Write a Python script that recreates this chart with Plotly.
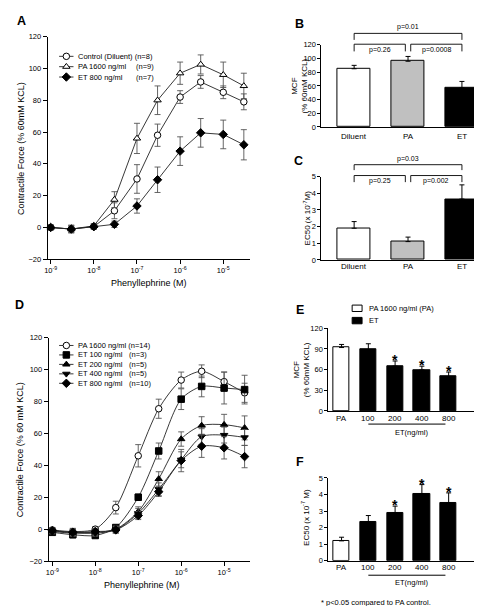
import plotly.graph_objects as go

W, H = 482, 606
FONT = "Liberation Sans, Arial, sans-serif"


def fx(p):
    return p / W


def fy(p):
    return 1 - p / H


# ---------------- data ----------------
conc = [1e-9, 3e-9, 1e-8, 3e-8, 1e-7, 3e-7, 1e-6, 3e-6, 1e-5, 3e-5]
log_ticks = [1e-9, 1e-8, 1e-7, 1e-6, 1e-5]
log_tick_text = ["10<sup>-9</sup>", "10<sup>-8</sup>", "10<sup>-7</sup>", "10<sup>-6</sup>", "10<sup>-5</sup>"]

# Panel A
a_control = [0, -1, 0.5, 10.5, 30.5, 58, 82, 91.5, 85, 79]
a_control_err = [1.5, 2, 1.5, 5, 9, 7, 4, 4, 4, 5]
a_pa = [0, -1, 1, 17.5, 56, 80, 97, 102.5, 96, 89]
a_pa_err = [1.5, 2, 1.5, 5, 9.5, 9, 7, 6, 8, 8]
a_et = [0, -1, 0.5, 2, 13.5, 30, 48, 59.5, 58.5, 52]
a_et_err = [1.5, 2.5, 1.5, 2, 4.5, 8, 9, 9, 9, 9.5]
a_names = ["Control (Diluent) (n=8)", "PA 1600 ng/ml", "ET 800 ng/ml"]
a_n = ["", "(n=9)", "(n=7)"]

# Panel D
d_pa = [-0.5, -1.5, 0, 13.5, 46, 75.5, 93.5, 99, 92.5, 85.5]
d_pa_err = [1.5, 2, 1.5, 4, 7, 6, 5, 4, 6, 6]
d_et100 = [-2, -3.5, -4, 1, 20, 49, 81.5, 89.5, 88.5, 87.5]
d_et100_err = [1.5, 2, 1.5, 1.5, 2, 5, 6.5, 6.5, 10, 9]
d_et200 = [-1, -2, -2, 0, 11, 31.5, 56.5, 65, 65.5, 63.5]
d_et200_err = [1.5, 2, 2, 2, 3, 4.5, 4.5, 5.5, 6.5, 7.5]
d_et400 = [-1.5, -2.5, -2.5, -0.5, 10, 25, 43.5, 58, 59, 57.5]
d_et400_err = [1.5, 2, 2, 2, 3, 4, 5, 5, 5, 5]
d_et800 = [-1, -2, -1.5, -0.5, 8.5, 23.5, 43, 52, 51, 45.5]
d_et800_err = [1.5, 2, 2, 2, 2.5, 3, 7, 7, 7, 7]
d_names = ["PA 1600 ng/ml (n=14)", "ET 100 ng/ml", "ET 200 ng/ml", "ET 400 ng/ml", "ET 800 ng/ml"]
d_n = ["", "(n=3)", "(n=5)", "(n=5)", "(n=10)"]

# Panels B, C
bc_groups = ["Diluent", "PA", "ET"]
b_mcf = [85, 96, 57]
b_mcf_err = [5, 7, 9.5]
c_ec50 = [1.9, 1.1, 3.65]
c_ec50_err = [0.4, 0.27, 0.85]
b_pvals = ["p=0.26", "p=0.0008", "p=0.01"]
c_pvals = ["p=0.25", "p=0.002", "p=0.03"]

# Panels E, F
ef_groups = ["PA", "100", "200", "400", "800"]
e_mcf = [92, 89, 65, 59.5, 50]
e_mcf_err = [4.5, 8.5, 7.5, 5.5, 6.5]
f_ec50 = [1.2, 2.35, 2.9, 4.05, 3.5]
f_ec50_err = [0.22, 0.38, 0.4, 0.55, 0.6]
ef_sig = [False, False, True, True, True]

# ---------------- figure ----------------
fig = go.Figure()
ann = []
shapes = []


def text(x, y, s, size=7.5, xanchor="center", yanchor="middle", angle=0, xref="paper", yref="paper", yshift=0):
    ann.append(dict(x=x, y=y, xref=xref, yref=yref, text=s, showarrow=False,
                    font=dict(family=FONT, size=size, color="black"),
                    xanchor=xanchor, yanchor=yanchor, textangle=angle, yshift=yshift,
                    borderpad=0))


def series(x, y, err, xa, ya, symbol, fill, shape):
    fig.add_trace(go.Scatter(
        x=x, y=y, xaxis=xa, yaxis=ya, mode="lines+markers",
        line=dict(color="#222", width=0.9, shape=shape, smoothing=0.8),
        marker=dict(symbol=symbol, size=6.5, color=fill, line=dict(color="black", width=1)),
        error_y=dict(type="data", array=err, visible=True, color="#555", thickness=0.9, width=3),
        showlegend=False, cliponaxis=False))


def legend_swatch(y, symbol, fill):
    fig.add_trace(go.Scatter(x=[47.5, 62], y=[y, y], xaxis="x7", yaxis="y7", mode="lines",
                             line=dict(color="#222", width=0.9), showlegend=False, hoverinfo="skip"))
    fig.add_trace(go.Scatter(x=[54.8], y=[y], xaxis="x7", yaxis="y7", mode="markers",
                             marker=dict(symbol=symbol, size=6.5, color=fill, line=dict(color="black", width=1)),
                             showlegend=False, hoverinfo="skip"))


# Panel A
series(conc, a_control, a_control_err, "x", "y", "circle", "white", "linear")
series(conc, a_pa, a_pa_err, "x", "y", "triangle-up", "white", "linear")
series(conc, a_et, a_et_err, "x", "y", "diamond", "black", "linear")

# Panel D
series(conc, d_pa, d_pa_err, "x4", "y4", "circle", "white", "spline")
series(conc, d_et100, d_et100_err, "x4", "y4", "square", "black", "spline")
series(conc, d_et200, d_et200_err, "x4", "y4", "triangle-up", "black", "spline")
series(conc, d_et400, d_et400_err, "x4", "y4", "triangle-down", "black", "spline")
series(conc, d_et800, d_et800_err, "x4", "y4", "diamond", "black", "spline")


def bars(vals, errs, colors, xa, ya, width):
    n = len(vals)
    fig.add_trace(go.Bar(
        x=list(range(n)), y=vals, xaxis=xa, yaxis=ya, width=width,
        marker=dict(color=colors, line=dict(color="black", width=1)),
        error_y=dict(type="data", symmetric=False, array=errs, arrayminus=[0] * n,
                     color="black", thickness=1, width=2.5),
        showlegend=False))


bars(b_mcf, b_mcf_err, ["white", "#c0c0c0", "black"], "x2", "y2", 0.62)
bars(c_ec50, c_ec50_err, ["white", "#c0c0c0", "black"], "x3", "y3", 0.62)
ef_colors = ["white"] + ["black"] * (len(ef_groups) - 1)
bars(e_mcf, e_mcf_err, ef_colors, "x5", "y5", 0.61)
bars(f_ec50, f_ec50_err, ef_colors, "x6", "y6", 0.61)

# category labels (placed under each bar axis)
for xr, groups, ypix in [("x2", bc_groups, 126), ("x3", bc_groups, 258.5),
                         ("x5", ef_groups, 412.3), ("x6", ef_groups, 563.5)]:
    for i, g in enumerate(groups):
        text(i, fy(ypix), g, size=8, xref=xr)

# legends (A, D) drawn on a pixel overlay axis
a_leg_y = [45, 55.5, 66]
for yy, sym, fill in zip(a_leg_y, ["circle", "triangle-up", "diamond"], ["white", "white", "black"]):
    legend_swatch(yy, sym, fill)
for yy, name, nn in zip(a_leg_y, a_names, a_n):
    text(fx(66), fy(yy), name, xanchor="left")
    if nn:
        text(fx(124), fy(yy), nn, xanchor="left")

d_leg_y = [338.5, 348.1, 357.7, 367.3, 376.9]
for yy, sym, fill in zip(d_leg_y, ["circle", "square", "triangle-up", "triangle-down", "diamond"],
                         ["white", "black", "black", "black", "black"]):
    legend_swatch(yy, sym, fill)
for yy, name, nn in zip(d_leg_y, d_names, d_n):
    text(fx(66), fy(yy), name, xanchor="left")
    if nn:
        text(fx(117), fy(yy), nn, xanchor="left")

# legend E (bar swatches)
shapes.append(dict(type="rect", xref="paper", yref="paper", x0=fx(343), x1=fx(353), y0=fy(304), y1=fy(297.5),
                   line=dict(color="black", width=1), fillcolor="white"))
shapes.append(dict(type="rect", xref="paper", yref="paper", x0=fx(343), x1=fx(353), y0=fy(316.5), y1=fy(310),
                   line=dict(color="black", width=1), fillcolor="black"))
text(fx(359), fy(300.8), "PA 1600 ng/ml (PA)", xanchor="left")
text(fx(359), fy(313.2), "ET", xanchor="left")


# brackets
def bracket(xref, x0, x1, ytop, ybot):
    shapes.append(dict(type="path", xref=xref, yref="paper",
                       path=f"M {x0},{fy(ybot)} L {x0},{fy(ytop)} L {x1},{fy(ytop)} L {x1},{fy(ybot)}",
                       line=dict(color="black", width=0.9)))


# B
bracket("x2", 0, 0.95, 32.7, 40)
bracket("x2", 1.05, 2, 32.7, 40)
bracket("x2", 0, 2, 21.7, 28.3)
text(0.48, fy(38.5), b_pvals[0], size=7, xref="x2")
text(1.52, fy(38.5), b_pvals[1], size=7, xref="x2")
text(1.0, fy(15.5), b_pvals[2], size=7, xref="x2")
# C
bracket("x3", 0, 0.95, 166, 172.7)
bracket("x3", 1.05, 2, 166, 172.7)
bracket("x3", 0, 2, 155, 160.5)
text(0.48, fy(171.5), c_pvals[0], size=7, xref="x3")
text(1.52, fy(171.5), c_pvals[1], size=7, xref="x3")
text(1.0, fy(149), c_pvals[2], size=7, xref="x3")

# stars
for i, s in enumerate(ef_sig):
    if s:
        text(i, e_mcf[i] + e_mcf_err[i], "<b>*</b>", size=14, xref="x5", yref="y5", yshift=1)
        text(i, f_ec50[i] + f_ec50_err[i], "<b>*</b>", size=14, xref="x6", yref="y6", yshift=1)

# ET(ng/ml) lines
for xr, yl, yt in [("x5", 418.3, 427), ("x6", 571.7, 579)]:
    shapes.append(dict(type="line", xref=xr, yref="paper", x0=1.0, x1=3.88, y0=fy(yl), y1=fy(yl),
                       line=dict(color="black", width=1)))
    text(2.62, fy(yt), "ET(ng/ml)", size=7.5, xref=xr)

# panel letters
for lab, px, py in [("A", 10, 9), ("B", 290, 12), ("C", 289, 151), ("D", 8, 297), ("E", 290, 302), ("F", 290, 457)]:
    text(fx(px), fy(py), f"<b>{lab}</b>", size=12.5)

# axis titles
text(fx(9), fy(138), "Contractile Force (% 60mM KCL)", size=9, angle=-90)
text(fx(138), fy(275), "Phenyllephrine (M)", size=9)
text(fx(8), fy(444), "Contractile Force (% 60 mM KCL)", size=9, angle=-90)
text(fx(131), fy(581.5), "Phenyllephrine (M)", size=9)
text(fx(290), fy(75), "MCF<br>(% 60mM KCL)", size=8, angle=-90)
text(fx(297), fy(209), "EC50 (x 10<sup>-7</sup>M)", size=8, angle=-90)
text(fx(292), fy(363), "MCF<br>(% 60mM KCL)", size=8, angle=-90)
text(fx(296), fy(513), "EC50 (x 10<sup>-7</sup> M)", size=8, angle=-90)

# footnote
text(fx(311), fy(599), "* p&lt;0.05 compared to PA control.", size=7.5, xanchor="left")

# ---------------- axes ----------------
base = dict(showline=True, linecolor="black", linewidth=1, ticks="outside", ticklen=4, tickwidth=1,
            tickcolor="black", showgrid=False, zeroline=False,
            tickfont=dict(family=FONT, size=7.5, color="black"), fixedrange=True)

lay = {}
lay["xaxis"] = dict(base, type="log", domain=[fx(36), fx(240)], range=[-9.069, -4.38], anchor="y",
                    tickvals=log_ticks, ticktext=log_tick_text)
lay["yaxis"] = dict(base, domain=[fy(251), fy(25)], range=[-20, 120], dtick=20, anchor="x")
lay["xaxis4"] = dict(base, type="log", domain=[fx(37), fx(240)], range=[-9.085, -4.397], anchor="y4",
                     tickvals=log_ticks, ticktext=log_tick_text)
lay["yaxis4"] = dict(base, domain=[fy(557.3), fy(330.7)], range=[-20, 120], dtick=20, anchor="x4")

catx = dict(showline=True, linecolor="black", linewidth=1, ticks="", showticklabels=False,
            showgrid=False, zeroline=False, fixedrange=True)
lay["xaxis2"] = dict(catx, domain=[fx(312), fx(480)], range=[-0.607, 2.484], anchor="y2")
lay["yaxis2"] = dict(base, domain=[fy(116.7), fy(33.3)], range=[0, 120], dtick=20, anchor="x2", ticklen=3)
lay["xaxis3"] = dict(catx, domain=[fx(312), fx(480)], range=[-0.607, 2.484], anchor="y3")
lay["yaxis3"] = dict(base, domain=[fy(251.7), fy(167)], range=[0, 5], dtick=1, anchor="x3", ticklen=3)
lay["xaxis5"] = dict(catx, domain=[fx(319), fx(480)], range=[-0.493, 5.47], anchor="y5")
lay["yaxis5"] = dict(base, domain=[fy(405), fy(321)], range=[0, 120], dtick=30, anchor="x5", ticklen=3)
lay["xaxis6"] = dict(catx, domain=[fx(319), fx(480)], range=[-0.493, 5.47], anchor="y6")
lay["yaxis6"] = dict(base, domain=[fy(557), fy(473)], range=[0, 5], dtick=1, anchor="x6", ticklen=3)
lay["xaxis7"] = dict(domain=[0, 1], range=[0, W], visible=False, anchor="y7", fixedrange=True)
lay["yaxis7"] = dict(domain=[0, 1], range=[H, 0], visible=False, anchor="x7", fixedrange=True)

fig.update_layout(
    width=W, height=H, margin=dict(l=0, r=0, t=0, b=0),
    paper_bgcolor="white", plot_bgcolor="rgba(0,0,0,0)",
    font=dict(family=FONT, size=8, color="black"),
    annotations=ann, shapes=shapes, showlegend=False, bargap=0,
    **lay)

fig.write_html("out.html")
